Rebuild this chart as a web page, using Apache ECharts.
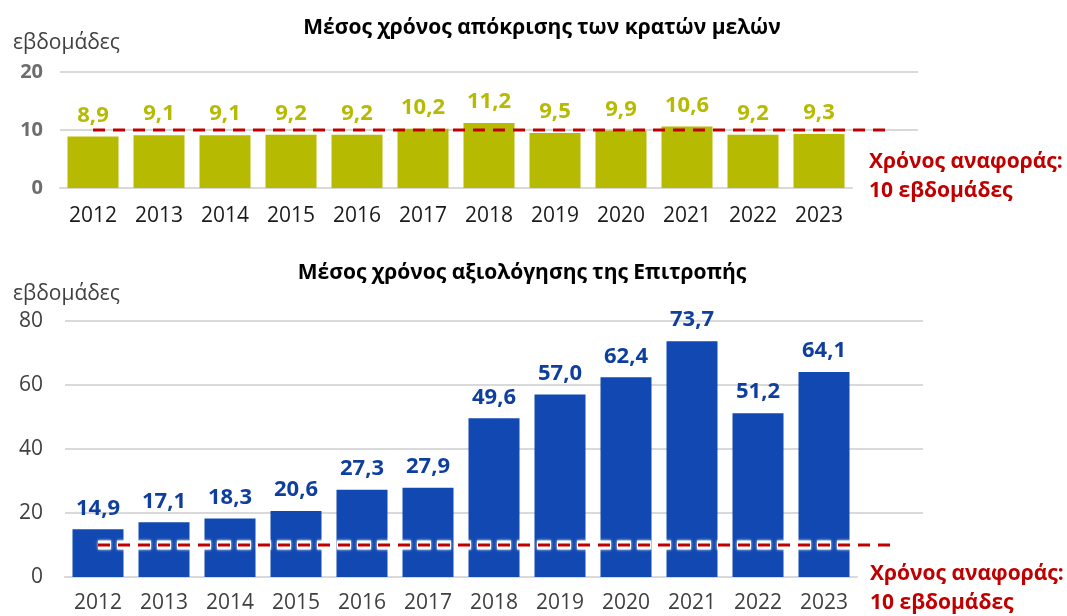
<!DOCTYPE html>
<html>
<head>
<meta charset="utf-8">
<script src="https://cdn.jsdelivr.net/npm/echarts@6/dist/echarts.min.js"></script>
<style>
  html, body { margin: 0; padding: 0; background: #fff; }
  #chart { width: 1067px; height: 616px; }
</style>
</head>
<body>
<div id="chart"></div>
<script>
// data
var years = ["2012", "2013", "2014", "2015", "2016", "2017", "2018", "2019", "2020", "2021", "2022", "2023"];
var memberStates = [8.9, 9.1, 9.1, 9.2, 9.2, 10.2, 11.2, 9.5, 9.9, 10.6, 9.2, 9.3];
var commission = [14.9, 17.1, 18.3, 20.6, 27.3, 27.9, 49.6, 57.0, 62.4, 73.7, 51.2, 64.1];
var refWeeks = 10;
var refLine = [[0, refWeeks], [12, refWeeks]];
var yTicksTop = { min: 0, max: 20, interval: 10 };
var yTicksBottom = { min: 0, max: 80, interval: 20 };

var FONT = "'Open Sans', 'Noto Sans', sans-serif";
var GRID_C = "#d9d9d9";
var RED = "#c00000";
var OLIVE = "#b6ba00";
var BLUE = "#1148b1";

var chart = echarts.init(document.getElementById("chart"));

var yearsExt = years.concat([""]);
function fmt(p) { return String(p.value.toFixed(1)).replace(".", ","); }

function splitColors(n) {
  var c = ["rgba(0,0,0,0)"];
  for (var i = 0; i < n; i++) c.push(GRID_C);
  return c;
}

var option = {
  animation: false,
  textStyle: { fontFamily: FONT },
  title: [
    { text: "Μέσος χρόνος απόκρισης των κρατών μελών", left: 537, top: 13, textAlign: "center",
      textStyle: { fontFamily: FONT, fontSize: 21, fontWeight: "bold", color: "#000" } },
    { text: "Μέσος χρόνος αξιολόγησης της Επιτροπής", left: 517, top: 258, textAlign: "center",
      textStyle: { fontFamily: FONT, fontSize: 21, fontWeight: "bold", color: "#000" } },
    { text: "εβδομάδες", left: 8, top: 28,
      textStyle: { fontFamily: FONT, fontSize: 21, fontWeight: "normal", color: "#404040" } },
    { text: "εβδομάδες", left: 8, top: 279,
      textStyle: { fontFamily: FONT, fontSize: 21, fontWeight: "normal", color: "#404040" } },
    { text: "Χρόνος αναφοράς:\n10 εβδομάδες", left: 864, top: 143,
      textStyle: { fontFamily: FONT, fontSize: 21, fontWeight: "bold", color: RED, lineHeight: 29 } },
    { text: "Χρόνος αναφοράς:\n10 εβδομάδες", left: 865, top: 555,
      textStyle: { fontFamily: FONT, fontSize: 21, fontWeight: "bold", color: RED, lineHeight: 29 } }
  ],
  grid: [
    { left: 60, top: 72, width: 858, height: 116 },
    { left: 60, top: 72, width: 792, height: 116 },
    { left: 65, top: 321, width: 858, height: 256 },
    { left: 65, top: 321, width: 792, height: 256 }
  ],
  xAxis: [
    { type: "category", gridIndex: 0, data: yearsExt, show: false },
    { type: "category", gridIndex: 1, data: years,
      axisLine: { lineStyle: { color: GRID_C, width: 2 } }, axisTick: { show: false },
      axisLabel: { color: "#1a1a1a", fontSize: 21, margin: 18, fontFamily: FONT } },
    { type: "category", gridIndex: 2, data: yearsExt, show: false },
    { type: "category", gridIndex: 3, data: years,
      axisLine: { lineStyle: { color: GRID_C, width: 2 } }, axisTick: { show: false },
      axisLabel: { color: "#404040", fontSize: 21, margin: 16, fontFamily: FONT } }
  ],
  yAxis: [
    { type: "value", gridIndex: 0, min: yTicksTop.min, max: yTicksTop.max, interval: yTicksTop.interval,
      axisLabel: { show: false }, axisLine: { show: false }, axisTick: { show: false },
      splitLine: { lineStyle: { color: splitColors(2), width: 2 } } },
    { type: "value", gridIndex: 1, min: yTicksTop.min, max: yTicksTop.max, interval: yTicksTop.interval,
      axisLine: { show: false }, axisTick: { show: false }, splitLine: { show: false },
      axisLabel: { color: "#6d6d6d", fontSize: 20, fontWeight: "bold", margin: 17, fontFamily: FONT } },
    { type: "value", gridIndex: 2, min: yTicksBottom.min, max: yTicksBottom.max, interval: yTicksBottom.interval,
      axisLabel: { show: false }, axisLine: { show: false }, axisTick: { show: false },
      splitLine: { lineStyle: { color: splitColors(4), width: 2 } } },
    { type: "value", gridIndex: 3, min: yTicksBottom.min, max: yTicksBottom.max, interval: yTicksBottom.interval,
      axisLine: { show: false }, axisTick: { show: false }, splitLine: { show: false },
      axisLabel: { color: "#404040", fontSize: 21, margin: 22, fontFamily: FONT } }
  ],
  series: [
    {
      type: "bar", xAxisIndex: 1, yAxisIndex: 1, data: memberStates, barWidth: 51,
      itemStyle: { color: OLIVE },
      label: { show: true, position: "top", distance: 10, formatter: fmt,
        color: OLIVE, fontSize: 22, fontWeight: "bold", fontFamily: FONT }
    },
    {
      type: "line", xAxisIndex: 0, yAxisIndex: 0, data: refLine, symbol: "none", z: 5,
      lineStyle: { color: RED, width: 3, type: [12, 8] }
    },
    {
      type: "bar", xAxisIndex: 3, yAxisIndex: 3, data: commission, barWidth: 51,
      itemStyle: { color: BLUE },
      label: { show: true, position: "top", distance: 10, formatter: fmt,
        color: "#0f3f9e", fontSize: 22, fontWeight: "bold", fontFamily: FONT }
    },
    {
      // white halo under the reference line
      type: "line", xAxisIndex: 2, yAxisIndex: 2, data: refLine, symbol: "none", z: 4,
      lineStyle: { color: "rgba(255,255,255,0.95)", width: 9, type: [14, 6], dashOffset: 1,
        shadowColor: "#ffffff", shadowBlur: 3 }
    },
    {
      type: "line", xAxisIndex: 2, yAxisIndex: 2, data: refLine, symbol: "none", z: 5,
      lineStyle: { color: RED, width: 3, type: [12, 8] }
    }
  ]
};

chart.setOption(option);
</script>
</body>
</html>
